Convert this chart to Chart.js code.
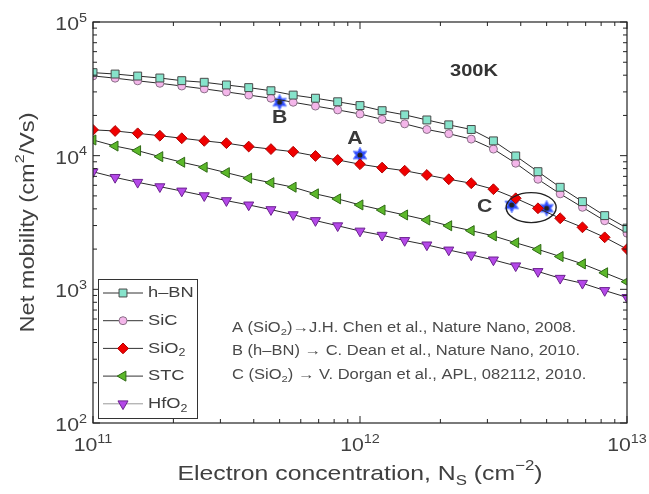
<!DOCTYPE html>
<html>
<head>
<meta charset="utf-8">
<script src="https://cdn.jsdelivr.net/npm/chart.js@4.4.1/dist/chart.umd.min.js"></script>
<style>
  html, body { margin: 0; padding: 0; background: #fff; }
  #wrap { width: 649px; height: 494px; }
</style>
</head>
<body>
<div id="wrap"><canvas id="chart" width="649" height="494"></canvas></div>
<script>
// Electron concentration samples (cm^-2)
const concentrations = [1.00e11, 1.21e11, 1.47e11, 1.78e11, 2.15e11, 2.61e11, 3.16e11, 3.83e11, 4.64e11,
    5.62e11, 6.81e11, 8.25e11, 1.00e12, 1.21e12, 1.47e12, 1.78e12, 2.15e12, 2.61e12, 3.16e12, 3.83e12,
    4.64e12, 5.62e12, 6.81e12, 8.25e12, 1.00e13];

// Net mobility (cm^2/Vs) per substrate
const hbnValues = [41800, 40800, 39400, 38100, 36400, 35400, 33800, 32300, 30600, 28400, 26900, 25300,
    23700, 21700, 20200, 18500, 17000, 15700, 12900, 9950, 7590, 5800, 4530, 3560, 2870];
const sicValues = [39500, 38000, 36300, 34800, 33200, 31600, 30000, 28400, 26900, 25100, 23500, 22000,
    20500, 18700, 17300, 15700, 14600, 13300, 11200, 8780, 6660, 5180, 4110, 3260, 2630];
const sio2Values = [15600, 15300, 14700, 14100, 13500, 12900, 12400, 11700, 11200, 10700, 9950, 9290,
    8630, 8140, 7720, 7170, 6660, 6220, 5610, 4800, 4040, 3400, 2910, 2450, 2000];
const stcValues = [13100, 11800, 10900, 9830, 8930, 8190, 7460, 6780, 6280, 5810, 5180, 4750,
    4280, 3920, 3600, 3300, 2990, 2750, 2510, 2230, 1990, 1760, 1550, 1330, 1140];
const hfo2Values = [7580, 6880, 6320, 5860, 5440, 5020, 4610, 4280, 3950, 3620, 3270, 2990,
    2730, 2540, 2320, 2150, 1970, 1810, 1660, 1500, 1360, 1210, 1110, 980, 870];

// Experimental points A, B, C
const expLabels = ['B', 'A', 'C', 'C'];
const expConc = [5e11, 1e12, 3.7e12, 5e12];
const expMobility = [25100, 10100, 4280, 4040];

// Axis decades
const xDecades = [11, 12, 13];
const yDecades = [2, 3, 4, 5];

const FONT = '"Liberation Sans", Arial, Helvetica, sans-serif';
const TEXT = '#404040';
const STRETCH = 1.18; // the source lettering is wider than Liberation Sans

function pts(values) {
    return concentrations.map((c, i) => ({ x: c, y: values[i] }));
}

function makeStar() {
    const c = document.createElement('canvas');
    c.width = 18; c.height = 18;
    const g = c.getContext('2d');
    const cx = 9, cy = 9, ro = 8, ri = 4.4;
    g.beginPath();
    for (let i = 0; i < 12; i++) {
        const r = i % 2 === 0 ? ro : ri;
        const a = -Math.PI / 2 + i * Math.PI / 6;
        const px = cx + r * Math.cos(a), py = cy + r * Math.sin(a);
        if (i === 0) g.moveTo(px, py); else g.lineTo(px, py);
    }
    g.closePath();
    g.fillStyle = '#2f4dff';
    g.fill();
    g.strokeStyle = '#7f95ff';
    g.lineWidth = 1;
    g.stroke();
    g.beginPath();
    g.arc(cx, cy, 2.6, 0, Math.PI * 2);
    g.fillStyle = '#222';
    g.fill();
    return c;
}
const starImg = makeStar();

// text made of parts: [text, 'n' | 'sub' | 'sup']
function richWidth(ctx, parts, size, weight) {
    let w = 0;
    parts.forEach(p => {
        const s = p[1] === 'n' ? size : size * 0.68;
        ctx.font = (weight || '') + ' ' + s + 'px ' + FONT;
        w += ctx.measureText(p[0]).width;
    });
    return w;
}
function drawRich(ctx, parts, x, y, size, align, color, weight) {
    const w = richWidth(ctx, parts, size, weight) * STRETCH;
    const x0 = align === 'center' ? x - w / 2 : align === 'right' ? x - w : x;
    ctx.save();
    ctx.translate(x0, y);
    ctx.scale(STRETCH, 1);
    ctx.fillStyle = color || TEXT;
    ctx.textBaseline = 'middle';
    ctx.textAlign = 'left';
    let cx = 0;
    parts.forEach(p => {
        let s = size, dy = 0;
        if (p[1] === 'sub') { s = size * 0.68; dy = size * 0.32; }
        if (p[1] === 'sup') { s = size * 0.68; dy = -size * 0.38; }
        ctx.font = (weight || '') + ' ' + s + 'px ' + FONT;
        ctx.fillText(p[0], cx, dy);
        cx += ctx.measureText(p[0]).width;
    });
    ctx.restore();
}

const frame = {
    id: 'frame',
    afterDraw(chart) {
        const { ctx, chartArea: a, scales } = chart;
        const xs = scales.x, ys = scales.y;
        ctx.save();
        ctx.strokeStyle = '#222';
        ctx.lineWidth = 1.2;
        ctx.strokeRect(a.left, a.top, a.right - a.left, a.bottom - a.top);

        // ticks inside the box
        ctx.lineWidth = 1;
        ctx.beginPath();
        xDecades.forEach(d => {
            for (let m = 1; m <= 9; m++) {
                const v = m * Math.pow(10, d);
                if (v > xs.max * 1.0001) break;
                const px = xs.getPixelForValue(v);
                const len = m === 1 ? 7 : 4;
                ctx.moveTo(px, a.bottom); ctx.lineTo(px, a.bottom - len);
                ctx.moveTo(px, a.top); ctx.lineTo(px, a.top + len);
            }
        });
        yDecades.forEach(d => {
            for (let m = 1; m <= 9; m++) {
                const v = m * Math.pow(10, d);
                if (v > ys.max * 1.0001) break;
                const py = ys.getPixelForValue(v);
                const len = m === 1 ? 7 : 4;
                ctx.moveTo(a.left, py); ctx.lineTo(a.left + len, py);
                ctx.moveTo(a.right, py); ctx.lineTo(a.right - len, py);
            }
        });
        ctx.stroke();

        // tick labels
        xDecades.forEach(d => {
            const px = xs.getPixelForValue(Math.pow(10, d));
            drawRich(ctx, [['10', 'n'], [String(d), 'sup']], px, a.bottom + 23, 18, 'center');
        });
        yDecades.forEach(d => {
            const py = ys.getPixelForValue(Math.pow(10, d));
            drawRich(ctx, [['10', 'n'], [String(d), 'sup']], a.left - 6, py + 3, 18, 'right');
        });

        // axis titles
        drawRich(ctx, [['Electron concentration, N', 'n'], ['S', 'sub'], [' (cm', 'n'], ['\u22122', 'sup'], [')', 'n']],
            (a.left + a.right) / 2, 474, 21, 'center');
        ctx.save();
        ctx.translate(28, (a.top + a.bottom) / 2);
        ctx.rotate(-Math.PI / 2);
        drawRich(ctx, [['Net mobility (cm', 'n'], ['2', 'sup'], ['/Vs)', 'n']], 0, 0, 20, 'center');
        ctx.restore();

        // temperature
        drawRich(ctx, [['300K', 'n']], 450, 71, 17, 'left', '#333', 'bold');

        // experiment labels
        const offs = [[0, 16], [-5, -16], [-27, 2]];
        for (let i = 0; i < 3; i++) {
            const px = xs.getPixelForValue(expConc[i]);
            const py = ys.getPixelForValue(expMobility[i]);
            drawRich(ctx, [[expLabels[i], 'n']], px + offs[i][0], py + offs[i][1], 18, 'center', '#3a3a3a', 'bold');
        }

        // ellipse round the C points
        const ex = xs.getPixelForValue(Math.sqrt(expConc[2] * expConc[3])) + 2;
        const ey = ys.getPixelForValue(Math.sqrt(expMobility[2] * expMobility[3])) + 1;
        ctx.beginPath();
        ctx.ellipse(ex, ey, 25, 15, 0, 0, Math.PI * 2);
        ctx.strokeStyle = '#222';
        ctx.lineWidth = 1.4;
        ctx.stroke();

        // references
        const refs = [
            [['A (SiO', 'n'], ['2', 'sub'], [')\u2192J.H. Chen et al., Nature Nano, 2008.', 'n']],
            [['B (h\u2013BN) \u2192 C. Dean et al., Nature Nano, 2010.', 'n']],
            [['C (SiO', 'n'], ['2', 'sub'], [') \u2192 V. Dorgan et al., APL, 082112, 2010.', 'n']]
        ];
        refs.forEach((r, i) => drawRich(ctx, r, 232, 328 + i * 23.5, 14, 'left', '#4a4a4a'));

        // legend
        const lx = 98, ly = 279, lw = 99, lh = 139;
        ctx.fillStyle = '#fff';
        ctx.fillRect(lx, ly, lw, lh);
        ctx.strokeStyle = '#333';
        ctx.lineWidth = 1;
        ctx.strokeRect(lx + 0.5, ly + 0.5, lw, lh);
        const names = [
            [['h\u2013BN', 'n']], [['SiC', 'n']], [['SiO', 'n'], ['2', 'sub']], [['STC', 'n']], [['HfO', 'n'], ['2', 'sub']]
        ];
        chart.data.datasets.slice(0, 5).forEach((ds, i) => {
            const yy = ly + 14 + i * 27.7;
            ctx.strokeStyle = i === 4 ? '#999' : '#333';
            ctx.lineWidth = 1;
            ctx.beginPath();
            ctx.moveTo(lx + 5, yy); ctx.lineTo(lx + 45, yy);
            ctx.stroke();
            ctx.fillStyle = ds.pointBackgroundColor;
            ctx.strokeStyle = ds.pointBorderColor;
            Chart.helpers.drawPoint(ctx, {
                pointStyle: ds.pointStyle, rotation: ds.pointRotation || 0,
                radius: ds.pointRadius, borderWidth: 1
            }, lx + 25, yy);
            drawRich(ctx, names[i], lx + 50, yy, 15.5, 'left');
        });
        ctx.restore();
    }
};

function series(label, values, style, radius, fill, border, rot) {
    return {
        label, data: pts(values),
        borderColor: '#2a2a2a', borderWidth: 1,
        pointStyle: style, pointRadius: radius, pointRotation: rot || 0,
        pointBackgroundColor: fill, pointBorderColor: border, pointBorderWidth: 1,
        tension: 0, fill: false
    };
}

new Chart(document.getElementById('chart'), {
    type: 'line',
    data: {
        datasets: [
            series('h-BN', hbnValues, 'rect', 5.6, '#86e3cb', '#4a4a4a'),
            series('SiC', sicValues, 'circle', 4, '#f4b6ea', '#8a7088'),
            series('SiO2', sio2Values, 'rectRot', 5.4, '#f00000', '#b00000'),
            series('STC', stcValues, 'triangle', 5.8, '#5cb82a', '#2f6a15', -90),
            series('HfO2', hfo2Values, 'triangle', 5.8, '#b448e8', '#6c2290', 180),
            {
                label: 'experiment',
                data: expConc.map((c, i) => ({ x: c, y: expMobility[i] })),
                showLine: false,
                pointStyle: starImg,
                pointRadius: 8
            }
        ]
    },
    options: {
        responsive: false,
        animation: false,
        layout: { padding: { left: 93, right: 22, top: 22, bottom: 71 } },
        plugins: { legend: { display: false }, tooltip: { enabled: false } },
        scales: {
            x: { type: 'logarithmic', min: 1e11, max: 1e13, display: false },
            y: { type: 'logarithmic', min: 1e2, max: 1e5, display: false }
        }
    },
    plugins: [frame]
});
</script>
</body>
</html>
